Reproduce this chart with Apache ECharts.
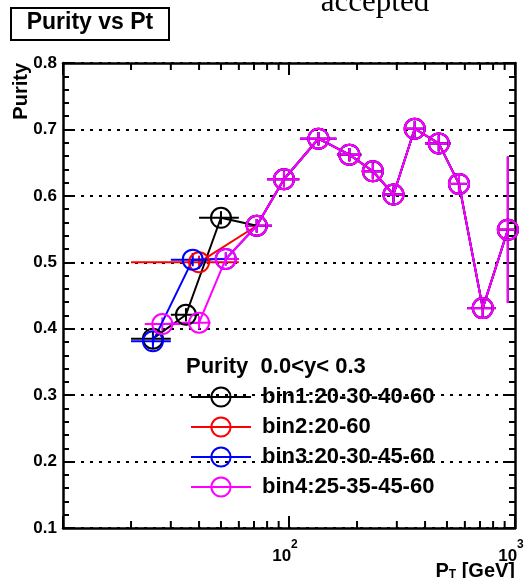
<!DOCTYPE html>
<html>
<head>
<meta charset="utf-8">
<script src="https://cdn.jsdelivr.net/npm/echarts@6/dist/echarts.min.js"></script>
<style>
  html, body { margin: 0; padding: 0; background: #fff; overflow: hidden; }
  #chart { width: 524px; height: 578px; }
</style>
</head>
<body>
<div id="chart"></div>
<script>
// Purity per Pt bin for four low-Pt binning schemes (bin edges in GeV)
const bin1Pt = [25, 35, 50];
const bin1Lo = [20, 30, 40];
const bin1Hi = [30, 40, 60];
const bin1Purity = [0.385, 0.421, 0.567];
const bin1Err = [0.010, 0.010, 0.010];

const bin2Pt = [40];
const bin2Lo = [20];
const bin2Hi = [60];
const bin2Purity = [0.500];
const bin2Err = [0.010];

const bin3Pt = [25, 37.5, 52.5];
const bin3Lo = [20, 30, 45];
const bin3Hi = [30, 45, 60];
const bin3Purity = [0.381, 0.504, 0.505];
const bin3Err = [0.010, 0.010, 0.010];

const bin4Pt = [27.5, 40, 52.5];
const bin4Lo = [23, 33, 45];
const bin4Hi = [33, 45, 60];
const bin4Purity = [0.407, 0.409, 0.505];
const bin4Err = [0.010, 0.010, 0.010];

// Common binning above 60 GeV
const highPt = [72, 95, 135, 185, 235, 290, 360, 460, 565, 720, 930];
const highLo = [64, 80, 112, 163, 210, 266, 323, 400, 520, 615, 840];
const highHi = [84, 111, 162, 209, 260, 323, 400, 520, 610, 821, 1000];
const highPurity = [0.555, 0.625, 0.686, 0.662, 0.637, 0.602, 0.701, 0.679, 0.618, 0.431, 0.549];
const highErr = [0.010, 0.012, 0.010, 0.010, 0.012, 0.012, 0.012, 0.012, 0.014, 0.016, 0.110];

// Axis ranges and log-axis minor tick positions
const xRange = [10, 1000];
const yRange = [0.1, 0.8];
const xMinorTicks = [20, 30, 40, 50, 60, 70, 80, 90, 200, 300, 400, 500, 600, 700, 800, 900];

const seriesNames = ['bin1:20-30-40-60', 'bin2:20-60', 'bin3:20-30-45-60', 'bin4:25-35-45-60'];
const seriesColors = ['#000000', '#ff0000', '#0000ff', '#ff00ff'];

const FONT = 'Liberation Sans, Arial, Helvetica, sans-serif';

const groups = [
  [bin1Pt, bin1Lo, bin1Hi, bin1Purity, bin1Err],
  [bin2Pt, bin2Lo, bin2Hi, bin2Purity, bin2Err],
  [bin3Pt, bin3Lo, bin3Hi, bin3Purity, bin3Err],
  [bin4Pt, bin4Lo, bin4Hi, bin4Purity, bin4Err]
];

function points(g) {
  const pt = g[0].concat(highPt);
  const p = g[3].concat(highPurity);
  return pt.map((x, i) => [x, p[i]]);
}

function errorRows(g) {
  const pt = g[0].concat(highPt);
  const lo = g[1].concat(highLo);
  const hi = g[2].concat(highHi);
  const p = g[3].concat(highPurity);
  const e = g[4].concat(highErr);
  return pt.map((x, i) => [x, p[i], lo[i], hi[i], p[i] - e[i], p[i] + e[i]]);
}

function errorRenderer(color) {
  return function (params, api) {
    const x = api.value(0), y = api.value(1);
    const a = api.coord([api.value(2), y]);
    const b = api.coord([api.value(3), y]);
    const c = api.coord([x, api.value(4)]);
    const d = api.coord([x, api.value(5)]);
    const st = { stroke: color, lineWidth: 2 };
    return {
      type: 'group',
      children: [
        { type: 'line', shape: { x1: a[0], y1: a[1], x2: b[0], y2: b[1] }, style: st },
        { type: 'line', shape: { x1: c[0], y1: c[1], x2: d[0], y2: d[1] }, style: st }
      ]
    };
  };
}

const series = [];

// minor ticks of the logarithmic Pt axis, bottom and top edges
series.push({
  type: 'custom',
  name: 'xminor',
  silent: true,
  data: xMinorTicks.map(v => [v, yRange[0]]),
  renderItem: function (params, api) {
    const b = api.coord([api.value(0), yRange[0]]);
    const t = api.coord([api.value(0), yRange[1]]);
    const st = { stroke: '#000', lineWidth: 2 };
    return {
      type: 'group',
      children: [
        { type: 'line', shape: { x1: b[0], y1: b[1], x2: b[0], y2: b[1] - 7 }, style: st },
        { type: 'line', shape: { x1: t[0], y1: t[1], x2: t[0], y2: t[1] + 7 }, style: st }
      ]
    };
  }
});

groups.forEach((g, k) => {
  const c = seriesColors[k];
  series.push({
    type: 'custom',
    name: seriesNames[k] + ' err',
    silent: true,
    data: errorRows(g),
    renderItem: errorRenderer(c)
  });
  series.push({
    type: 'line',
    name: seriesNames[k],
    data: points(g),
    color: c,
    symbol: 'circle',
    symbolSize: 20,
    showAllSymbol: true,
    clip: false,
    lineStyle: { color: c, width: 2 },
    itemStyle: { color: 'rgba(0,0,0,0)', borderColor: c, borderWidth: 2 },
    emphasis: { disabled: true },
    silent: true
  });
});

const chart = echarts.init(document.getElementById('chart'), null, { renderer: 'canvas', width: 524, height: 578 });

chart.setOption({
  animation: false,
  backgroundColor: '#ffffff',
  grid: { left: 63, top: 63, width: 452, height: 465, containLabel: false, outerBoundsMode: 'none' },
  xAxis: [
    {
      type: 'log',
      logBase: 10,
      min: xRange[0],
      max: xRange[1],
      position: 'bottom',
      axisLine: { show: true, lineStyle: { color: '#000', width: 2.5 } },
      axisTick: { show: true, inside: true, length: 12, lineStyle: { color: '#000', width: 2 } },
      splitLine: { show: false },
      axisLabel: {
        show: true,
        margin: 11,
        padding: [0, 8, 0, 0],
        showMinLabel: true,
        showMaxLabel: true,
        formatter: function (v) {
          if (Math.abs(v - 100) < 1e-6) return '{b|10}{s|2}';
          if (Math.abs(v - 1000) < 1e-6) return '{b|10}{s|3}';
          return '';
        },
        rich: {
          b: { fontFamily: FONT, fontWeight: 'bold', fontSize: 17, color: '#000', lineHeight: 26, verticalAlign: 'bottom' },
          s: { fontFamily: FONT, fontWeight: 'bold', fontSize: 12, color: '#000', lineHeight: 12, verticalAlign: 'top' }
        }
      }
    },
    {
      type: 'log',
      logBase: 10,
      min: xRange[0],
      max: xRange[1],
      position: 'top',
      axisLine: { show: true, lineStyle: { color: '#000', width: 2.5 } },
      axisTick: { show: true, inside: true, length: 12, lineStyle: { color: '#000', width: 2 } },
      axisLabel: { show: false },
      splitLine: { show: false }
    }
  ],
  yAxis: [
    {
      type: 'value',
      min: yRange[0],
      max: yRange[1],
      interval: 0.1,
      position: 'left',
      axisLine: { show: true, lineStyle: { color: '#000', width: 2.5 } },
      axisTick: { show: true, inside: true, length: 12, lineStyle: { color: '#000', width: 2 } },
      minorTick: { show: true, splitNumber: 5, length: 6, lineStyle: { color: '#000', width: 2 } },
      splitLine: { show: true, lineStyle: { color: '#000', width: 2, type: [3, 6] } },
      axisLabel: {
        margin: 6,
        fontFamily: FONT,
        fontWeight: 'bold',
        fontSize: 17,
        color: '#000',
        formatter: v => v.toFixed(1)
      }
    },
    {
      type: 'value',
      min: yRange[0],
      max: yRange[1],
      interval: 0.1,
      position: 'right',
      axisLine: { show: true, lineStyle: { color: '#000', width: 2.5 } },
      axisTick: { show: true, inside: true, length: 12, lineStyle: { color: '#000', width: 2 } },
      minorTick: { show: true, splitNumber: 5, length: 6, lineStyle: { color: '#000', width: 2 } },
      splitLine: { show: false },
      axisLabel: { show: false }
    }
  ],
  legend: {
    data: seriesNames,
    orient: 'vertical',
    left: 190,
    top: 386,
    padding: 0,
    itemWidth: 60,
    itemHeight: 24,
    itemGap: 8,
    selectedMode: false,
    textStyle: { fontFamily: FONT, fontWeight: 'bold', fontSize: 22, color: '#000', padding: [0, 0, 0, 6] }
  },
  graphic: [
    {
      type: 'group',
      children: [
        { type: 'rect', shape: { x: 11, y: 8, width: 158, height: 32 }, style: { fill: '#fff', stroke: '#000', lineWidth: 2 } },
        { type: 'text', x: 90, y: 23, style: { text: 'Purity vs Pt', fill: '#000', font: 'bold 23px ' + FONT, align: 'center', verticalAlign: 'middle' } }
      ]
    },
    {
      type: 'text', x: 375, y: 2.5,
      style: { text: 'accepted', fill: '#000', font: '31px Liberation Serif, Times New Roman, serif', align: 'center', verticalAlign: 'middle' }
    },
    {
      type: 'text', x: 21.5, y: 63, rotation: Math.PI / 2,
      style: { text: 'Purity', fill: '#000', font: 'bold 20px ' + FONT, align: 'right', verticalAlign: 'middle' }
    },
    {
      type: 'text', x: 186, y: 367,
      style: { text: 'Purity  0.0<y< 0.3', fill: '#000', font: 'bold 22px ' + FONT, align: 'left', verticalAlign: 'middle' }
    },
    {
      type: 'text', x: 515, y: 561,
      style: {
        text: '{a|P}{t|T}{a| [GeV]}',
        align: 'right',
        verticalAlign: 'top',
        rich: {
          a: { fontFamily: FONT, fontWeight: 'bold', fontSize: 20, fill: '#000', lineHeight: 20, verticalAlign: 'top' },
          t: { fontFamily: FONT, fontWeight: 'bold', fontSize: 12, fill: '#000', lineHeight: 12, padding: [12, 0, 0, 0], verticalAlign: 'bottom' }
        }
      }
    }
  ],
  series: series
});
</script>
</body>
</html>
